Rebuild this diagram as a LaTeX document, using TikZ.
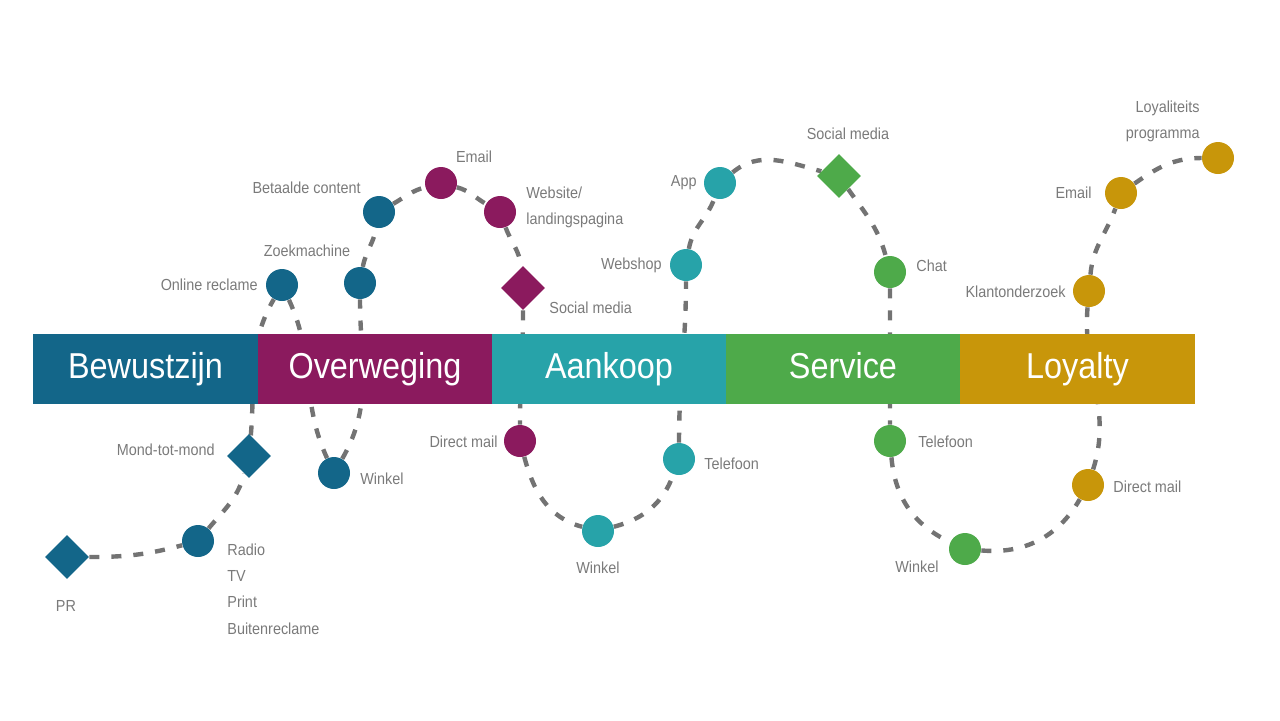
\documentclass[tikz,border=0pt]{standalone}
\usepackage{fontspec}
\setmainfont[FakeStretch=0.9]{Liberation Sans}
\usetikzlibrary{positioning,shapes.geometric,backgrounds}
\definecolor{bewblue}{HTML}{136689}
\definecolor{overpurple}{HTML}{8B1A5E}
\definecolor{aankteal}{HTML}{27A3A9}
\definecolor{servgreen}{HTML}{4EAA4A}
\definecolor{loyagold}{HTML}{C8960A}
\definecolor{lblgray}{HTML}{7A7A7A}
\definecolor{trailgray}{HTML}{737373}
\tikzset{
  phase/.style={rectangle, minimum height=35pt, inner sep=0pt, outer sep=0pt, text=white, text height=13pt, text depth=4pt, font=\fontsize{18}{18}\selectfont},
  touchdot/.style={circle, minimum size=16pt, inner sep=0pt},
  touchgem/.style={diamond, minimum width=22pt, minimum height=22pt, inner sep=0pt},
  lbl/.style={font=\fontsize{8}{13}\selectfont, text=lblgray, inner sep=0pt, text height=1.5ex, text depth=.25ex},
  lblmulti/.style={font=\fontsize{8}{13.2}\selectfont, text=lblgray, inner sep=0pt},
  trail/.style={draw=trailgray, line width=2.2pt, dash pattern=on 5pt off 6pt}
}

\begin{document}
\begin{tikzpicture}[x=0.5pt,y=0.5pt]
  \useasboundingbox (0,0) rectangle (1280,-720);

  % phases
  \node[phase, fill=bewblue, minimum width=112.5pt] (bew) at (145.5,-369) {Bewustzijn};
  \node[phase, fill=overpurple, minimum width=117pt, right=0pt of bew] (over) {Overweging};
  \node[phase, fill=aankteal, minimum width=117pt, right=0pt of over] (aank) {Aankoop};
  \node[phase, fill=servgreen, minimum width=117pt, right=0pt of aank] (serv) {Service};
  \node[phase, fill=loyagold, minimum width=117.5pt, right=0pt of serv] (loya) {Loyalty};

  % touchpoints
  \node[touchgem, fill=bewblue] (pr) at (67,-557) {};
  \node[touchdot, fill=bewblue] (radio) at (198,-541) {};
  \node[touchgem, fill=bewblue] (mond) at (249,-456) {};
  \node[touchdot, fill=bewblue] (onl) at (282,-285) {};
  \node[touchdot, fill=bewblue] (wink1) at (334,-473) {};
  \node[touchdot, fill=bewblue] (zoek) at (360,-283) {};
  \node[touchdot, fill=bewblue] (bet) at (379,-212) {};
  \node[touchdot, fill=overpurple] (mail1) at (441,-183) {};
  \node[touchdot, fill=overpurple] (web) at (500,-212) {};
  \node[touchgem, fill=overpurple] (soc1) at (523,-288) {};
  \node[touchdot, fill=overpurple] (dm1) at (520,-441) {};
  \node[touchdot, fill=aankteal] (wink2) at (598,-531) {};
  \node[touchdot, fill=aankteal] (tel1) at (679,-459) {};
  \node[touchdot, fill=aankteal] (shop) at (686,-265) {};
  \node[touchdot, fill=aankteal] (app) at (720,-183) {};
  \node[touchgem, fill=servgreen] (soc2) at (839,-176) {};
  \node[touchdot, fill=servgreen] (chat) at (890,-272) {};
  \node[touchdot, fill=servgreen] (tel2) at (890,-441) {};
  \node[touchdot, fill=servgreen] (wink3) at (965,-549) {};
  \node[touchdot, fill=loyagold] (dm2) at (1088,-485) {};
  \node[touchdot, fill=loyagold] (klant) at (1089,-291) {};
  \node[touchdot, fill=loyagold] (mail2) at (1121,-193) {};
  \node[touchdot, fill=loyagold] (loy) at (1218,-158) {};

  % labels
  \node[lbl] (pr-t) at (66,-605) {PR};
  \node[lblmulti, anchor=north west, align=left] (radio-t) at (227,-543) {Radio\\TV\\Print\\Buitenreclame};
  \node[lbl, anchor=east] (mond-t) at (215,-449) {Mond-tot-mond};
  \node[lbl, anchor=east] (onl-t) at (258,-284) {Online reclame};
  \node[lbl] (zoek-t) at (307,-250) {Zoekmachine};
  \node[lbl, anchor=east] (bet-t) at (361,-187) {Betaalde content};
  \node[lbl] (mail1-t) at (474,-156) {Email};
  \node[lblmulti, anchor=north west, align=left] (web-t) at (526,-186) {Website/\\landingspagina};
  \node[lbl, anchor=west] (soc1-t) at (549,-307) {Social media};
  \node[lbl, anchor=west] (wink1-t) at (360,-478) {Winkel};
  \node[lbl, anchor=east] (dm1-t) at (498,-441) {Direct mail};
  \node[lbl] (wink2-t) at (598,-567) {Winkel};
  \node[lbl, anchor=west] (tel1-t) at (704,-463) {Telefoon};
  \node[lbl, anchor=east] (shop-t) at (662,-263) {Webshop};
  \node[lbl, anchor=east] (app-t) at (697,-180) {App};
  \node[lbl] (soc2-t) at (848,-133) {Social media};
  \node[lbl, anchor=west] (chat-t) at (916,-265) {Chat};
  \node[lbl, anchor=west] (tel2-t) at (918,-441) {Telefoon};
  \node[lbl, anchor=east] (wink3-t) at (939,-566) {Winkel};
  \node[lbl, anchor=west] (dm2-t) at (1113,-486) {Direct mail};
  \node[lbl, anchor=east] (klant-t) at (1066,-291) {Klantonderzoek};
  \node[lbl, anchor=east] (mail2-t) at (1092,-192) {Email};
  \node[lblmulti, anchor=north east, align=right] (loy-t) at (1200,-100) {Loyaliteits\\programma};

  % customer journey
  \begin{scope}[on background layer]
    \draw[trail] (pr) to[out=0,in=195] (radio)
      to[out=50,in=-105] (mond)
      to[out=85,in=-120] (onl)
      to[out=-65,in=115] (wink1)
      to[out=60,in=-90] (zoek)
      to[out=80,in=-100] (bet)
      to[out=30,in=195] (mail1)
      to[out=-15,in=150] (web)
      to[out=-70,in=95] (soc1)
      to[out=-90,in=90] (dm1)
      to[out=-75,in=165] (wink2)
      to[out=15,in=-110] (tel1)
      to[out=90,in=-90] (shop)
      to[out=80,in=-110] (app)
      to[out=40,in=165] (soc2)
      to[out=-55,in=105] (chat)
      to[out=-90,in=90] (tel2)
      to[out=-85,in=155] (wink3)
      to[out=-5,in=-120] (dm2)
      to[out=72,in=-95] (klant)
      to[out=85,in=-110] (mail2)
      to[out=35,in=180] (loy);
  \end{scope}
\end{tikzpicture}
\end{document}
